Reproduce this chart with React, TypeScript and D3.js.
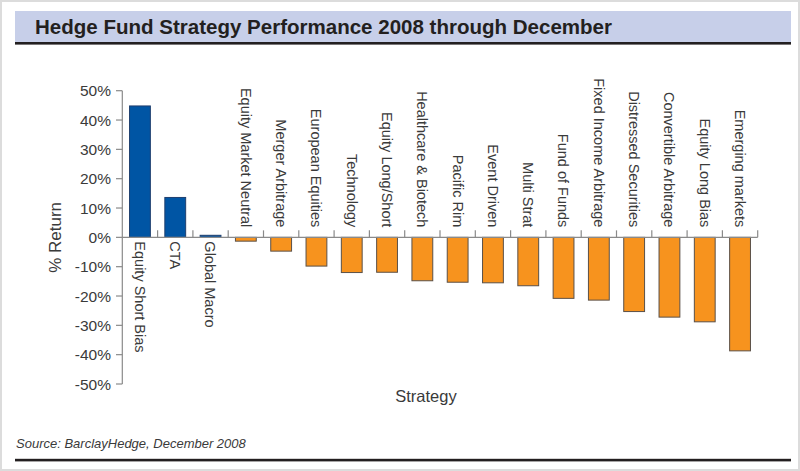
import React from "react";
import * as d3 from "d3";

const categories = [
  "Equity Short Bias", "CTA", "Global Macro", "Equity Market Neutral", "Merger Arbitrage",
  "European Equities", "Technology", "Equity Long/Short", "Healthcare & Biotech", "Pacific Rim",
  "Event Driven", "Multi Strat", "Fund of Funds", "Fixed Income Arbitrage", "Distressed Securities",
  "Convertible Arbitrage", "Equity Long Bias", "Emerging markets",
];
const returns = [
  44.8, 13.6, 0.7, -1.3, -4.7, -9.8, -12.0, -11.9, -14.8, -15.3, -15.5, -16.5, -20.8, -21.4,
  -25.3, -27.2, -28.8, -38.7,
];
const yTicks = [50, 40, 30, 20, 10, 0, -10, -20, -30, -40, -50];
const title = "Hedge Fund Strategy Performance 2008 through December";
const source = "Source: BarclayHedge, December 2008";
const yTitle = "% Return";
const xTitle = "Strategy";

const W = 800, H = 471;
const FONT = "'Liberation Sans', Arial, sans-serif";

export default function App() {
  const x = d3.scaleBand<string>().domain(categories).range([122.3, 757.7]).padding(0);
  const y = d3.scaleLinear().domain([-50, 50]).range([384, 90.7]);
  const bw = x.bandwidth() * 0.59;
  const y0 = y(0);
  const axisColor = "#8a8a8a";
  const textColor = "#3a3a3a";

  return (
    <svg width={W} height={H} style={{ position: "fixed", left: 0, top: 0, background: "#fff" }} fontFamily={FONT}>
      <rect x={1} y={1} width={W - 2} height={H - 2} fill="#fff" stroke="#dcdcdc" strokeWidth={2} />
      {/* title band */}
      <rect x={15} y={11} width={776} height={31} fill="#c7cfe9" />
      <rect x={15} y={42} width={776} height={2.6} fill="#231f20" />
      <text x={35} y={33.5} fontSize={20} fontWeight="bold" fill="#231f20" textLength={577} lengthAdjust="spacingAndGlyphs">
        {title}
      </text>

      {/* y axis */}
      <line x1={122.3} x2={122.3} y1={y(50)} y2={y(-50)} stroke={axisColor} strokeWidth={1.2} />
      {yTicks.map((t) => (
        <g key={t}>
          <line x1={116} x2={122.3} y1={y(t)} y2={y(t)} stroke={axisColor} strokeWidth={1.2} />
          <text x={111} y={y(t)} dy="0.36em" textAnchor="end" fontSize={15.5} fill={textColor}>
            {t}%
          </text>
        </g>
      ))}
      <text transform={`translate(61,${(y(50) + y(-50)) / 2}) rotate(-90)`} textAnchor="middle" fontSize={17} fill={textColor}>
        {yTitle}
      </text>

      {/* bars */}
      {categories.map((c, i) => {
        const v = returns[i];
        const cx = (x(c) as number) + x.bandwidth() / 2;
        return (
          <rect
            key={c}
            x={cx - bw / 2}
            y={Math.min(y(v), y0)}
            width={bw}
            height={Math.abs(y(v) - y0)}
            fill={v >= 0 ? "#0055a4" : "#f7931e"}
            stroke={v >= 0 ? "#1f3f6e" : "#5a5048"}
            strokeWidth={1}
          />
        );
      })}

      {/* category axis */}
      <line x1={122.3} x2={757.7} y1={y0} y2={y0} stroke={axisColor} strokeWidth={1.2} />
      {categories.map((c) => (
        <line key={c} x1={(x(c) as number) + x.bandwidth()} x2={(x(c) as number) + x.bandwidth()} y1={y0} y2={y0 - 7} stroke={axisColor} strokeWidth={1.2} />
      ))}
      {categories.map((c, i) => {
        const v = returns[i];
        const cx = (x(c) as number) + x.bandwidth() / 2;
        const ty = v >= 0 ? y0 + 4 : y0 - 10;
        return (
          <text
            key={c}
            transform={`translate(${cx},${ty}) rotate(90)`}
            textAnchor={v >= 0 ? "start" : "end"}
            dy="0.35em"
            fontSize={14.5}
            fill={textColor}
          >
            {c}
          </text>
        );
      })}
      <text x={426} y={402} textAnchor="middle" fontSize={16.5} fill={textColor}>
        {xTitle}
      </text>

      {/* footer */}
      <text x={16} y={448} fontSize={13} fontStyle="italic" fill={textColor}>
        {source}
      </text>
      <rect x={15} y={458.8} width={776} height={2.6} fill="#231f20" />
    </svg>
  );
}
